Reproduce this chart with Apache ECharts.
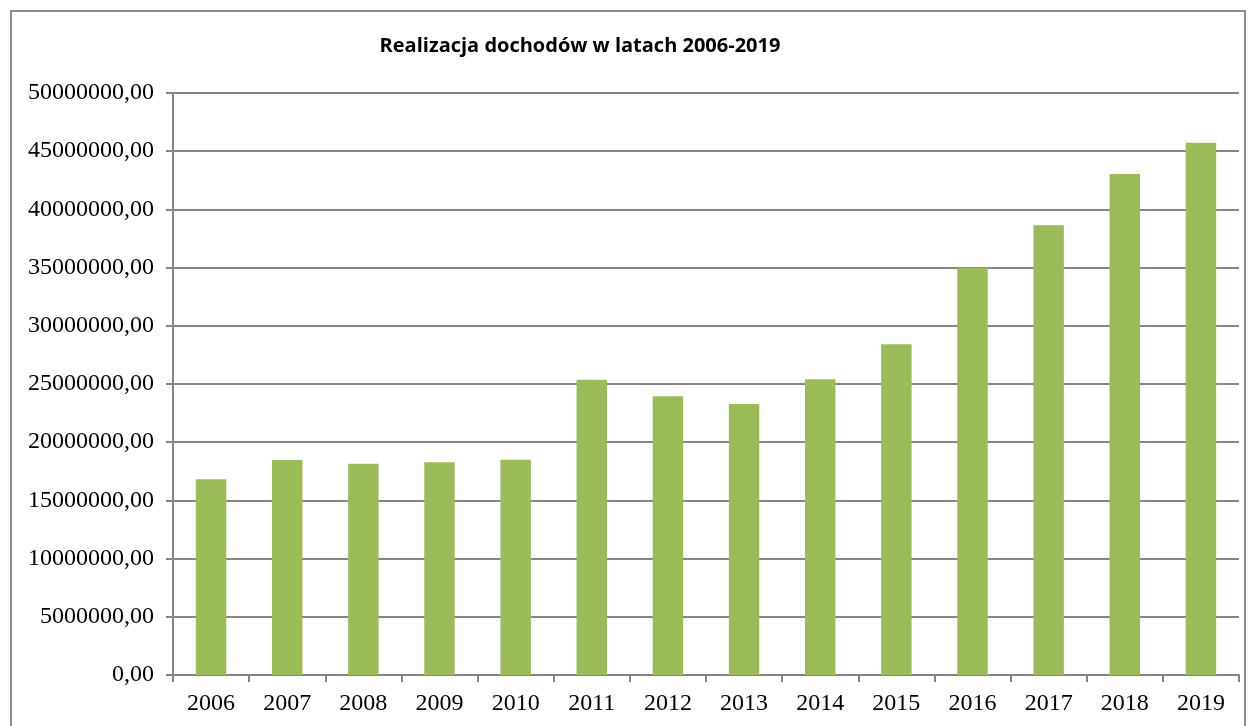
<!DOCTYPE html>
<html>
<head>
  <meta charset="utf-8">
  <script src="https://cdn.jsdelivr.net/npm/echarts@6/dist/echarts.min.js"></script>
  <style>
    body { margin: 0; background: #fff; }
    #frame { position: absolute; left: 10px; top: 10px; width: 1236px; height: 730px; border: 2px solid #8c8c8c; box-sizing: border-box; }
    #main { position: absolute; left: 0; top: 0; width: 1255px; height: 726px; }
  </style>
</head>
<body>
  <div id="frame"></div>
  <div id="main"></div>
<script type="text/javascript">
var years = ['2006', '2007', '2008', '2009', '2010', '2011', '2012', '2013', '2014', '2015', '2016', '2017', '2018', '2019'];
var dochody = [16810000, 18470000, 18150000, 18270000, 18500000, 25370000, 23940000, 23280000, 25400000, 28410000, 34980000, 38630000, 43040000, 45730000];

var fmt = function (v) {
    return v.toFixed(2).replace('.', ',');
};

var myChart = echarts.init(document.getElementById('main'));
myChart.setOption({
    animation: false,
    title: {
        text: 'Realizacja dochodów w latach 2006-2019',
        left: 575,
        top: 31,
        textAlign: 'center',
        textStyle: {
            fontFamily: 'Open Sans',
            fontWeight: 'bold',
            fontSize: 20,
            color: '#000'
        }
    },
    grid: { left: 173, right: 16, top: 93, bottom: 51 },
    xAxis: {
        type: 'category',
        data: years,
        axisLine: { lineStyle: { color: '#868686', width: 2 } },
        axisTick: { show: true, length: 7, lineStyle: { color: '#868686', width: 2 } },
        axisLabel: {
            margin: 17,
            fontFamily: 'Liberation Serif',
            fontSize: 24,
            color: '#000'
        }
    },
    yAxis: {
        type: 'value',
        min: 0,
        max: 50000000,
        interval: 5000000,
        axisLine: { show: true, lineStyle: { color: '#868686', width: 2 } },
        axisTick: { show: true, length: 7, lineStyle: { color: '#868686', width: 2 } },
        splitLine: { lineStyle: { color: '#868686', width: 2 } },
        axisLabel: {
            margin: 19,
            formatter: fmt,
            fontFamily: 'Liberation Serif',
            fontSize: 24,
            color: '#000'
        }
    },
    series: [{
        type: 'bar',
        data: dochody,
        barWidth: '40%',
        itemStyle: { color: '#9BBB59' }
    }]
});
</script>
</body>
</html>
